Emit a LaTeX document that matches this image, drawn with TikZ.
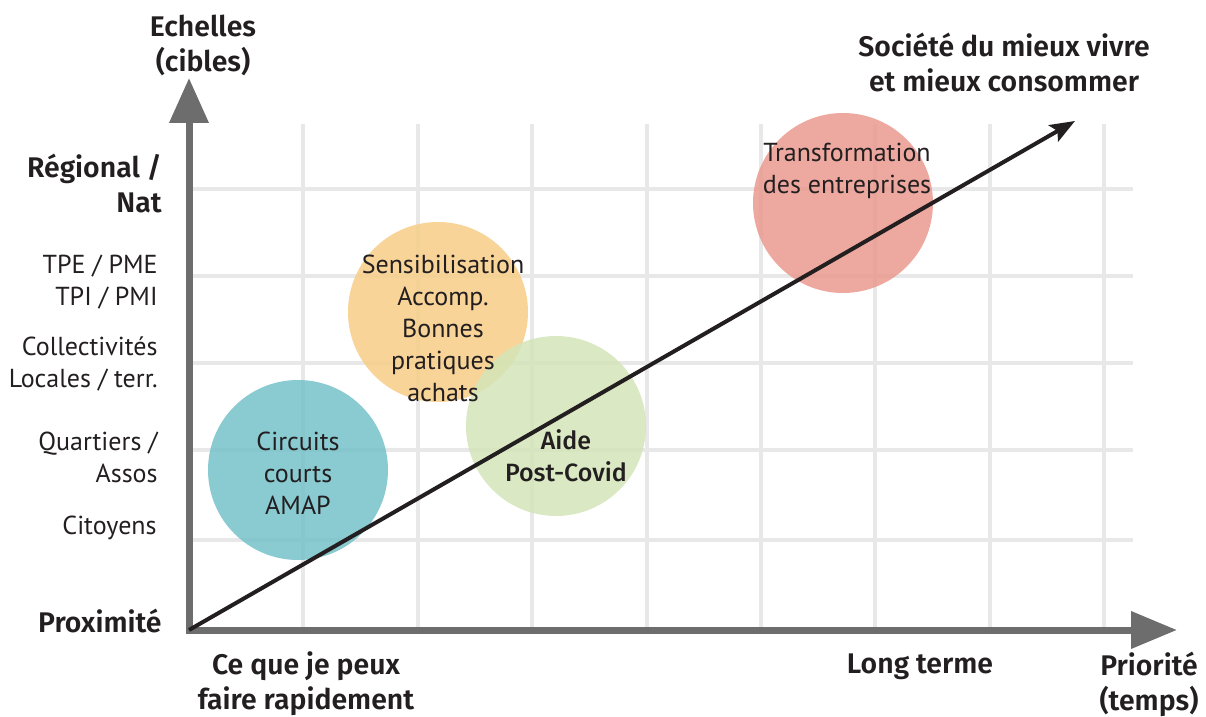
\documentclass[tikz,border=0pt]{standalone}
\usepackage{fontspec}
\setmainfont{PT Sans}[BoldFont={Fira Sans SemiBold}]
\newfontfamily\semibold{Fira Sans Medium}
\usetikzlibrary{arrows.meta}

\definecolor{inkcol}{HTML}{231F20}
\definecolor{gridcol}{HTML}{E8E8E8}
\definecolor{axiscol}{HTML}{6D6D6D}
\definecolor{tealc}{HTML}{75C1C9}
\definecolor{orangec}{HTML}{F7CD86}
\definecolor{greenc}{HTML}{D3E5B8}
\definecolor{redc}{HTML}{EA9A8F}

\tikzset{
  txt/.style={text=inkcol,font=\fontsize{13}{16}\selectfont,align=center,inner sep=0pt},
  lbl/.style={font=\fontsize{14.2}{17.5}\selectfont\bfseries},
  side/.style={align=right,anchor=east},
  bubble/.style={circle,minimum size=90pt,inner sep=0pt,fill opacity=0.85},
  gridline/.style={gridcol,line width=2pt},
}

\begin{document}
\begin{tikzpicture}[x=0.5pt,y=-0.5pt]
\useasboundingbox (0,0) rectangle (1206,717);

% origin and arrow ends
\coordinate (O) at (189,630);
\coordinate (ytip) at (189,78);
\coordinate (xtip) at (1177,630);
\coordinate (ftip) at (1075,121);

% background grid
\foreach \i in {1,...,8}
  \draw[gridline] (189+\i*114.4,124) -- (189+\i*114.4,630);
\foreach \y in {540,450,363,276,189}
  \draw[gridline] (189,\y) -- (1133,\y);

% actions
\node[bubble,fill=tealc] (circuits) at (298,470) {};
\node[bubble,fill=orangec] (sensib) at (438,312) {};
\node[bubble,fill=greenc] (aide) at (556,426) {};
\node[bubble,fill=redc] (transfo) at (843,203) {};

% axes
\draw[axiscol,line width=3.5pt,{Triangle[length=22.5pt,width=19pt]}-{Triangle[length=23pt,width=18pt]}]
  (ytip) -- (O) -- (xtip);
\draw[inkcol,line width=2pt,-{Stealth[length=12.5pt,width=9.5pt,inset=2.5pt]}] (O) -- (ftip);

% texts in the circles
\node[txt] at (298,473) {Circuits\\courts\\AMAP};
\node[txt] at (443,328) {Sensibilisation\\Accomp.\\Bonnes\\pratiques\\achats};
\node[txt,font=\fontsize{12.5}{16}\selectfont\semibold] at (566,456) {Aide\\Post-Covid};
\node[txt] at (847,171) {Transformation\\des entreprises};

% vertical axis
\node[txt,lbl] at (203,45) {Echelles\\(cibles)};
\node[txt,lbl,side] at (162,183) {Régional /\\Nat};
\node[txt,side] at (158,282) {TPE / PME\\TPI / PMI};
\node[txt,side] at (158,364) {Collectivités\\Locales / terr.};
\node[txt,side] at (158,457) {Quartiers /\\Assos};
\node[txt,side] at (157,528) {Citoyens};
\node[txt,lbl,side] at (162,621) {Proximité};

% horizontal axis
\node[txt,lbl] at (306,684) {Ce que je peux\\faire rapidement};
\node[txt,lbl] at (920,667) {Long terme};
\node[txt,lbl] at (1149,684) {Priorité\\(temps)};
\node[txt,lbl] at (1004,62) {Société du mieux vivre\\et mieux consommer};
\end{tikzpicture}
\end{document}
